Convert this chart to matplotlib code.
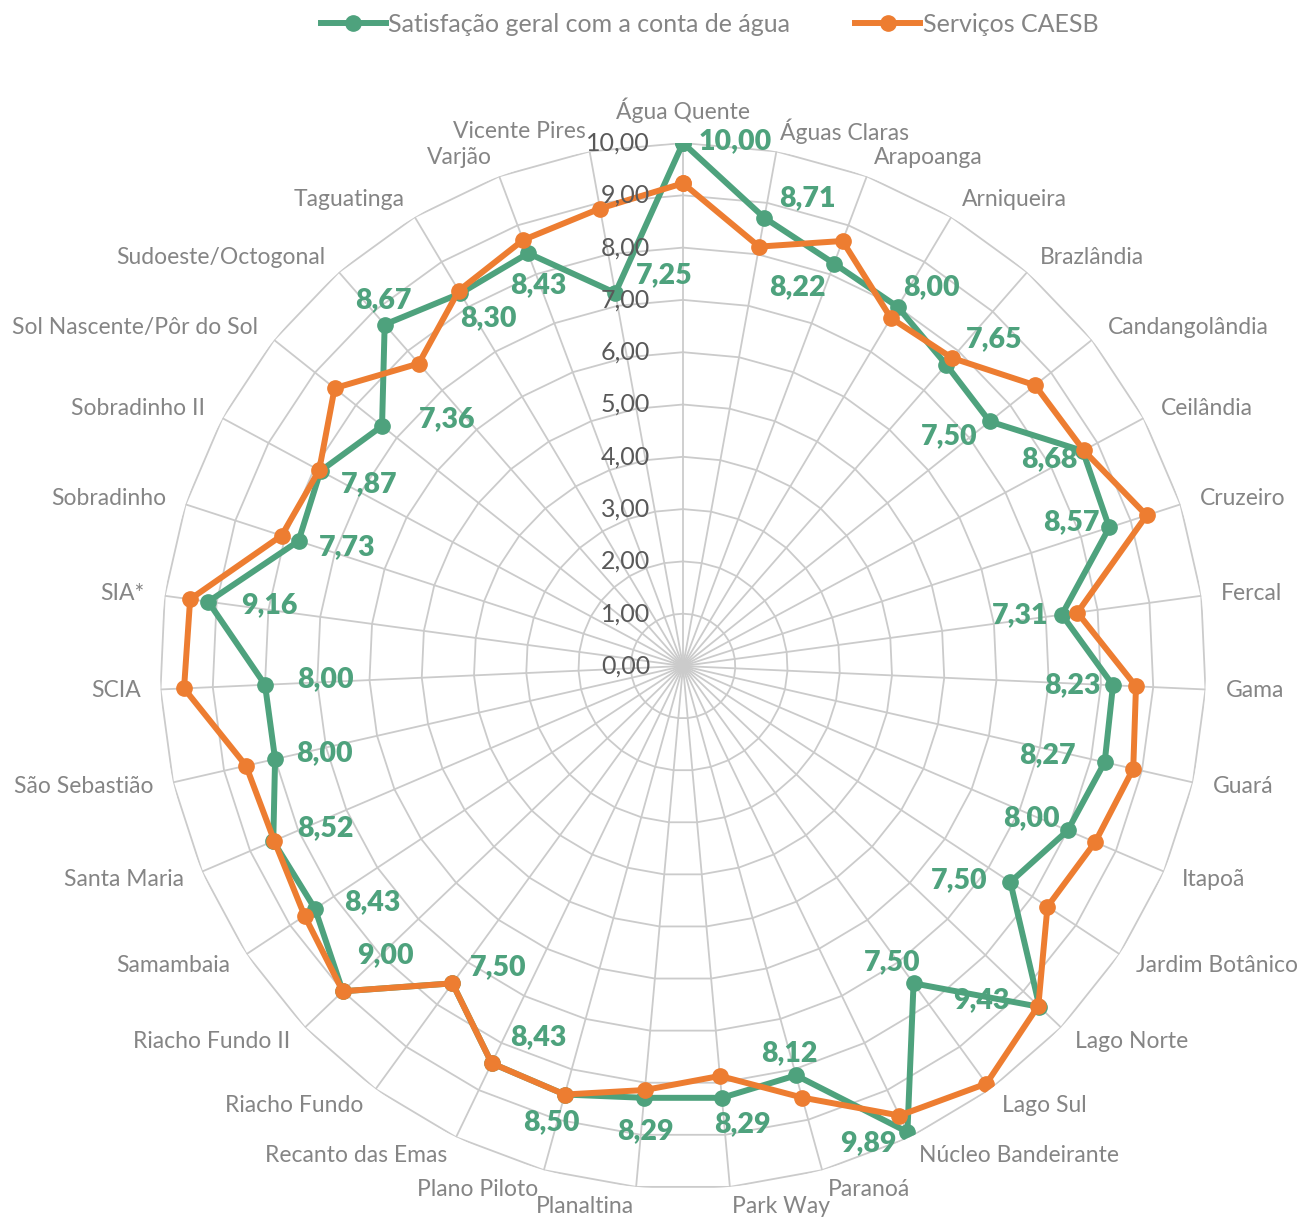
import numpy as np
import matplotlib.pyplot as plt
from matplotlib.lines import Line2D

plt.rcParams['font.family'] = ['Lato', 'DejaVu Sans']

regioes = ['Água Quente', 'Águas Claras', 'Arapoanga', 'Arniqueira', 'Brazlândia',
           'Candangolândia', 'Ceilândia', 'Cruzeiro', 'Fercal', 'Gama', 'Guará',
           'Itapoã', 'Jardim Botânico', 'Lago Norte', 'Lago Sul', 'Núcleo Bandeirante',
           'Paranoá', 'Park Way', 'Planaltina', 'Plano Piloto', 'Recanto das Emas',
           'Riacho Fundo', 'Riacho Fundo II', 'Samambaia', 'Santa Maria',
           'São Sebastião', 'SCIA', 'SIA*', 'Sobradinho', 'Sobradinho II',
           'Sol Nascente/Pôr do Sol', 'Sudoeste/Octogonal', 'Taguatinga', 'Varjão',
           'Vicente Pires']

satisfacao = [10.00, 8.71, 8.22, 8.00, 7.65, 7.50, 8.68, 8.57, 7.31, 8.23, 8.27,
              8.00, 7.50, 9.43, 7.50, 9.89, 8.12, 8.29, 8.29, 8.50, 8.43, 7.50,
              9.00, 8.43, 8.52, 8.00, 8.00, 9.16, 7.73, 7.87, 7.36, 8.67, 8.30,
              8.43, 7.25]

servicos = [9.23, 8.15, 8.68, 7.75, 7.82, 8.61, 8.70, 9.32, 7.61, 8.67, 8.83,
            8.57, 8.35, 9.40, 9.87, 9.54, 8.56, 7.87, 8.14, 8.50, 8.43, 7.50,
            9.00, 8.67, 8.50, 8.57, 9.55, 9.51, 8.07, 7.90, 8.52, 7.68, 8.36,
            8.70, 8.89]

niveis = [0, 1, 2, 3, 4, 5, 6, 7, 8, 9, 10]

# label offsets for the green values (pixels)
offsets = [(52, 2), (43, 20), (-37, -24), (34, 20), (48, 26), (-40, -15), (-33, -8),
           (-38, 5), (-42, 0), (-41, 0), (-57, 7), (-36, 12), (-51, 2), (-58, 7),
           (-21, 21), (-39, -11), (-7, 22), (21, -26), (1, -33), (-13, -28),
           (47, 26), (46, 16), (43, 36), (57, 7), (52, 13), (49, 6), (60, 6),
           (61, -3), (49, -6), (49, -13), (65, 7), (-1, 24), (28, -25), (10, -32),
           (49, 18)]

verde = '#4EA27D'
laranja = '#ED7D31'
grade = '#CBCBCB'
cinza = '#858585'

n = len(regioes)
theta = np.arange(n) * 2 * np.pi / n
theta_c = np.append(theta, theta[0])

fig = plt.figure(figsize=(13.14, 12.22), dpi=100)
W, H = 1314, 1222
cx, cy, R = 683, 666, 523
ax = fig.add_axes([(cx - R) / W, (H - cy - R) / H, 2 * R / W, 2 * R / H], projection='polar')
ax.set_theta_zero_location('N')
ax.set_theta_direction(-1)
ax.set_ylim(0, 10)
ax.grid(False)
ax.spines['polar'].set_visible(False)
ax.set_xticks([])
ax.set_yticks([])
ax.patch.set_alpha(0)

for lv in niveis[1:]:
    ax.plot(theta_c, [lv] * (n + 1), color=grade, lw=1.3, zorder=1)
for t in theta:
    ax.plot([t, t], [0, 10], color=grade, lw=1.3, zorder=1)

ax.plot(theta_c, np.append(satisfacao, satisfacao[0]), color=verde, lw=4.3,
        marker='o', ms=11, zorder=3)
ax.plot(theta_c, np.append(servicos, servicos[0]), color=laranja, lw=4.3,
        marker='o', ms=11, zorder=4)

for lv in niveis:
    ax.annotate(f'{lv:.2f}'.replace('.', ','), xy=(0, lv), xytext=(-33, 0),
                textcoords='offset pixels', ha='right', va='center',
                fontsize=18, color='#595959', zorder=6)

for t, v, (dx, dy) in zip(theta, satisfacao, offsets):
    ax.annotate(f'{v:.2f}'.replace('.', ','), xy=(t, v), xytext=(dx, dy),
                textcoords='offset pixels', ha='center', va='center',
                fontsize=20.5, fontweight='heavy', color=verde, zorder=7)

for t, nome in zip(theta, regioes):
    s, c = np.sin(t), np.cos(t)
    if abs(s) < 0.01:
        ha, va = 'center', 'bottom'
    else:
        ha = 'left' if s > 0 else 'right'
        va = 'center'
    ax.annotate(nome, xy=(t, 10), xytext=(20 * s, 20 * c), textcoords='offset pixels',
                ha=ha, va=va, fontsize=16.5, color=cinza, annotation_clip=False)

handles = [Line2D([], [], color=verde, lw=4.3, marker='o', ms=11),
           Line2D([], [], color=laranja, lw=4.3, marker='o', ms=11)]
leg = fig.legend(handles, ['Satisfação geral com a conta de água', 'Serviços CAESB'],
                 loc='upper center', bbox_to_anchor=(0.54, 1.008), ncol=2, frameon=False,
                 fontsize=18, handlelength=2.6, handletextpad=0.1, columnspacing=2.6)
for tx in leg.get_texts():
    tx.set_color(cinza)

fig.savefig('out.png', dpi=100)
